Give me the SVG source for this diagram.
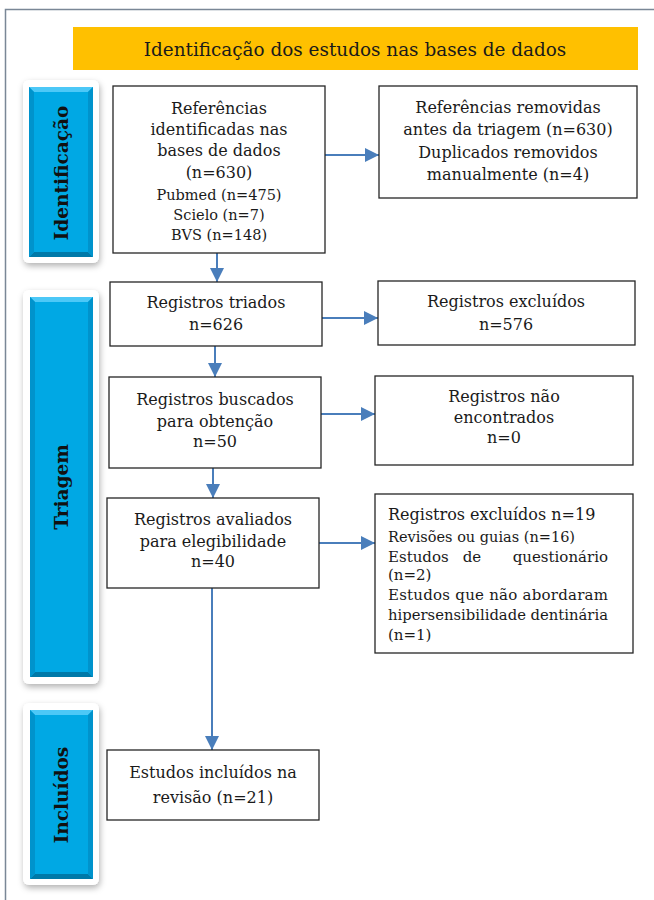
<svg xmlns="http://www.w3.org/2000/svg" width="654" height="900" viewBox="0 0 654 900">
<defs>
<style>
.box{fill:#fff;stroke:#262626;stroke-width:1.3}
.t{font-family:"DejaVu Serif","Liberation Serif",serif;font-size:16px;fill:#1a1a1a;text-anchor:middle}
.s{font-size:14.5px}
.l{text-anchor:start}
.e{text-anchor:end}
.side{font-family:"DejaVu Serif","Liberation Serif",serif;font-size:18.5px;font-weight:bold;fill:#111;text-anchor:middle}
.con{stroke:#4a7ebb;stroke-width:2;fill:none;marker-end:url(#ah)}
.frame{stroke:#7a8796;stroke-width:1.5;fill:none}
.card{fill:#fff;filter:url(#sh)}
.bl{fill:#00a8e4}
.bt{fill:#4cc8f7}
.bb{fill:#0079a8}
.bs{fill:#0093cc}
</style>
<marker id="ah" viewBox="0 0 14 14" refX="14" refY="7" markerWidth="14" markerHeight="14" markerUnits="userSpaceOnUse" orient="auto">
<path d="M0,0 L14,7 L0,14 z" fill="#4a7ebb"/>
</marker>
<filter id="sh" x="-30%" y="-10%" width="160%" height="130%">
<feDropShadow dx="1" dy="3" stdDeviation="3" flood-color="#000" flood-opacity="0.3"/>
</filter>
</defs>
<rect width="654" height="900" fill="#fff"/>
<path class="frame" d="M5.5,900 V9.5 H654"/>

<g id="title">
<rect x="73" y="27" width="565" height="43" fill="#ffc000"/>
<text class="t" x="355" y="56" style="font-size:18.4px">Identificação dos estudos nas bases de dados</text>
</g>

<g id="phase-identificacao">
<rect class="card" x="23" y="80" width="76" height="183" rx="6"/>
<rect class="bl" x="29" y="87" width="64" height="170"/>
<polygon class="bt" points="29,87 93,87 88,92 34,92"/>
<polygon class="bb" points="29,257 93,257 88,252 34,252"/>
<polygon class="bs" points="29,87 34,92 34,252 29,257"/>
<polygon class="bs" points="93,87 88,92 88,252 93,257"/>
<text class="side" transform="translate(68,173) rotate(-90)">Identificação</text>
</g>

<g id="phase-triagem">
<rect class="card" x="23" y="290" width="76" height="394" rx="6"/>
<rect class="bl" x="30" y="297" width="63" height="380"/>
<polygon class="bt" points="30,297 93,297 88,302 35,302"/>
<polygon class="bb" points="30,677 93,677 88,672 35,672"/>
<polygon class="bs" points="30,297 35,302 35,672 30,677"/>
<polygon class="bs" points="93,297 88,302 88,672 93,677"/>
<text class="side" transform="translate(68,487) rotate(-90)">Triagem</text>
</g>

<g id="phase-incluidos">
<rect class="card" x="23" y="703" width="76" height="182" rx="6"/>
<rect class="bl" x="30" y="710" width="63" height="169"/>
<polygon class="bt" points="30,710 93,710 88,715 35,715"/>
<polygon class="bb" points="30,879 93,879 88,874 35,874"/>
<polygon class="bs" points="30,710 35,715 35,874 30,879"/>
<polygon class="bs" points="93,710 88,715 88,874 93,879"/>
<text class="side" transform="translate(68,795) rotate(-90)">Incluídos</text>
</g>

<g id="connectors">
<line class="con" x1="217" y1="253" x2="217" y2="282"/>
<line class="con" x1="325" y1="155" x2="379" y2="155"/>
<line class="con" x1="215" y1="346" x2="215" y2="377"/>
<line class="con" x1="322" y1="318" x2="378" y2="318"/>
<line class="con" x1="213" y1="468" x2="213" y2="498"/>
<line class="con" x1="321" y1="414" x2="375" y2="414"/>
<line class="con" x1="319" y1="543" x2="375" y2="543"/>
<line class="con" x1="212" y1="588" x2="212" y2="750"/>
</g>

<g id="n-identificadas">
<rect class="box" x="113" y="86" width="212" height="167"/>
<text class="t" x="219" y="114">Referências</text>
<text class="t" x="219" y="135">identificadas nas</text>
<text class="t" x="219" y="156">bases de dados</text>
<text class="t" x="219" y="178">(n=630)</text>
<text class="t s" x="219" y="200">Pubmed (n=475)</text>
<text class="t s" x="219" y="220">Scielo (n=7)</text>
<text class="t s" x="219" y="240">BVS (n=148)</text>
</g>

<g id="n-removidas">
<rect class="box" x="379" y="86" width="258" height="112"/>
<text class="t" x="508" y="113">Referências removidas</text>
<text class="t" x="508" y="135">antes da triagem (n=630)</text>
<text class="t" x="508" y="158">Duplicados removidos</text>
<text class="t" x="508" y="180">manualmente (n=4)</text>
</g>

<g id="n-triados">
<rect class="box" x="110" y="282" width="212" height="64"/>
<text class="t" x="216" y="308">Registros triados</text>
<text class="t" x="216" y="330">n=626</text>
</g>

<g id="n-excluidos1">
<rect class="box" x="378" y="281" width="257" height="64"/>
<text class="t" x="506" y="307">Registros excluídos</text>
<text class="t" x="506" y="330">n=576</text>
</g>

<g id="n-buscados">
<rect class="box" x="109" y="377" width="212" height="91"/>
<text class="t" x="215" y="405">Registros buscados</text>
<text class="t" x="215" y="427">para obtenção</text>
<text class="t" x="215" y="447">n=50</text>
</g>

<g id="n-naoencontrados">
<rect class="box" x="375" y="376" width="258" height="89"/>
<text class="t" x="504" y="402">Registros não</text>
<text class="t" x="504" y="423">encontrados</text>
<text class="t" x="504" y="443">n=0</text>
</g>

<g id="n-avaliados">
<rect class="box" x="107" y="498" width="212" height="90"/>
<text class="t" x="213" y="525">Registros avaliados</text>
<text class="t" x="213" y="547">para elegibilidade</text>
<text class="t" x="213" y="567">n=40</text>
</g>

<g id="n-excluidos2">
<rect class="box" x="375" y="494" width="258" height="159"/>
<text class="t l" x="388" y="520">Registros excluídos n=19</text>
<text class="t l s" x="388" y="542">Revisões ou guias (n=16)</text>
<text class="t l" x="388" y="562" style="font-size:15px">Estudos</text>
<text class="t" x="472" y="562" style="font-size:15px">de</text>
<text class="t e" x="608" y="562" style="font-size:15px">questionário</text>
<text class="t l" x="388" y="580" style="font-size:15px">(n=2)</text>
<text class="t l" x="388" y="600" style="font-size:15px" textLength="220" lengthAdjust="spacing">Estudos que não abordaram</text>
<text class="t l" x="388" y="620" style="font-size:15px" textLength="220" lengthAdjust="spacingAndGlyphs">hipersensibilidade dentinária</text>
<text class="t l" x="388" y="640" style="font-size:15px">(n=1)</text>
</g>

<g id="n-incluidos">
<rect class="box" x="107" y="750" width="212" height="70"/>
<text class="t" x="213" y="778">Estudos incluídos na</text>
<text class="t" x="213" y="803">revisão (n=21)</text>
</g>
</svg>
